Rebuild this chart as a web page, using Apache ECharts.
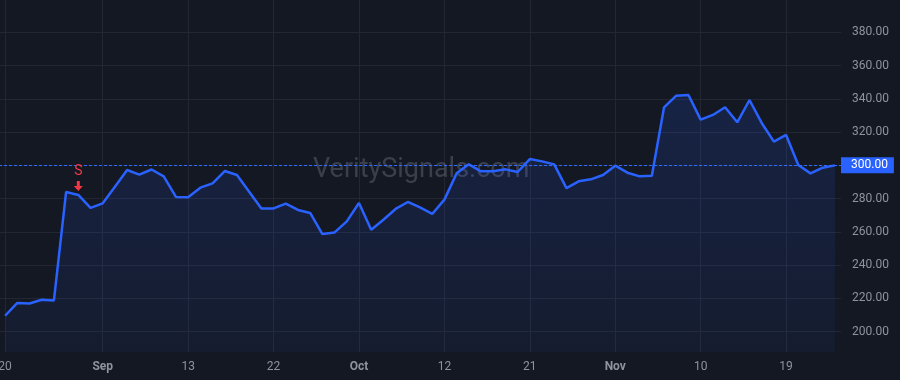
<!DOCTYPE html>
<html>
<head>
<meta charset="utf-8">
<script src="https://cdn.jsdelivr.net/npm/echarts@6/dist/echarts.min.js"></script>
<style>
  html, body { margin: 0; padding: 0; background: #141823; }
  #chart { width: 900px; height: 380px; }
</style>
</head>
<body>
<div id="chart"></div>
<script>
// trading days, Aug 20 - Nov 26 2021
var categories = [
  '2021-08-20', '2021-08-23', '2021-08-24', '2021-08-25', '2021-08-26', '2021-08-27', '2021-08-30', '2021-08-31',
  '2021-09-01', '2021-09-02', '2021-09-03', '2021-09-07', '2021-09-08', '2021-09-09', '2021-09-10',
  '2021-09-13', '2021-09-14', '2021-09-15', '2021-09-16', '2021-09-17', '2021-09-20', '2021-09-21',
  '2021-09-22', '2021-09-23', '2021-09-24', '2021-09-27', '2021-09-28', '2021-09-29', '2021-09-30',
  '2021-10-01', '2021-10-04', '2021-10-05', '2021-10-06', '2021-10-07', '2021-10-08', '2021-10-11',
  '2021-10-12', '2021-10-13', '2021-10-14', '2021-10-15', '2021-10-18', '2021-10-19', '2021-10-20',
  '2021-10-21', '2021-10-22', '2021-10-25', '2021-10-26', '2021-10-27', '2021-10-28', '2021-10-29',
  '2021-11-01', '2021-11-02', '2021-11-03', '2021-11-04', '2021-11-05', '2021-11-08', '2021-11-09',
  '2021-11-10', '2021-11-11', '2021-11-12', '2021-11-15', '2021-11-16', '2021-11-17', '2021-11-18',
  '2021-11-19', '2021-11-22', '2021-11-23', '2021-11-24', '2021-11-26'
]
var prices = [
  209.6, 217.3, 217.0, 219.2, 218.8, 284.0, 282.2, 274.4,
  277.2, 287.2, 297.2, 294.4, 297.5, 293.4, 281.0,
  280.8, 286.6, 289.2, 296.6, 294.2, 284.2, 274.1,
  274.1, 277.0, 273.2, 271.4, 258.7, 259.7, 266.3,
  277.4, 261.3, 267.3, 273.8, 278.0, 274.7, 270.8,
  279.4, 295.2, 300.6, 296.4, 296.4, 297.6, 296.0,
  303.8, 302.4, 300.6, 286.3, 290.4, 291.6, 294.2,
  299.8, 295.6, 293.4, 293.8, 334.9, 341.9, 342.3,
  327.5, 330.3, 334.9, 325.9, 339.3, 325.5, 314.3,
  318.3, 300.2, 295.2, 298.6, 300.0
]
var tickDates = ['2021-08-20', '2021-09-01', '2021-09-13', '2021-09-22', '2021-10-01',
  '2021-10-12', '2021-10-21', '2021-11-01', '2021-11-10', '2021-11-19']
var monthNames = ['Jan', 'Feb', 'Mar', 'Apr', 'May', 'Jun', 'Jul', 'Aug', 'Sep', 'Oct', 'Nov', 'Dec']
var signalDates = ['2021-08-30']
var signalTexts = ['S']

var lastPrice = prices[prices.length - 1]
var textColor = '#8f939e'
var gridColor = '#232734'
var bg = '#141823'

function isTick(idx) {
  return tickDates.indexOf(categories[idx]) >= 0
}

var chart = echarts.init(document.getElementById('chart'))
chart.setOption({
  backgroundColor: bg,
  animation: false,
  textStyle: { fontFamily: 'Roboto, sans-serif' },
  grid: {
    left: -1,
    right: 59,
    top: -1,
    bottom: 15,
    outerBoundsMode: 'none'
  },
  xAxis: [
    {
      // grid lines only
      type: 'category',
      position: 'top',
      data: categories,
      boundaryGap: true,
      axisLine: { show: false },
      axisTick: { show: false },
      axisLabel: { show: false },
      splitLine: {
        show: true,
        alignWithLabel: true,
        interval: function(idx) { return isTick(idx) },
        lineStyle: { color: gridColor, width: 1 }
      }
    },
    {
      // labels, drawn over the bottom strip
      type: 'category',
      position: 'bottom',
      data: categories,
      boundaryGap: true,
      z: 60,
      axisLine: { show: false },
      axisTick: { show: false },
      splitLine: { show: false },
      axisLabel: {
        interval: function(idx) { return isTick(idx) },
        verticalAlign: 'middle',
        margin: 2,
        color: textColor,
        fontSize: 12,
        formatter: function(v) {
          var p = v.split('-')
          var day = parseInt(p[2], 10)
          if (day === 1) return '{m|' + monthNames[parseInt(p[1], 10) - 1] + '}'
          return String(day)
        },
        rich: {
          m: { fontWeight: 'bold', fontSize: 12, color: textColor }
        }
      }
    }
  ],
  yAxis: {
    type: 'value',
    position: 'right',
    min: 180,
    max: 400,
    interval: 20,
    axisLine: { show: false },
    axisTick: { show: false },
    axisLabel: {
      color: textColor,
      fontSize: 12,
      margin: 11,
      formatter: function(v) {
        if (v < 200 || v > 380) return ''
        return v.toFixed(2)
      }
    },
    splitLine: { lineStyle: { color: gridColor, width: 1 } }
  },
  graphic: [
    {
      type: 'text',
      left: 313,
      top: 157,
      z: 1,
      style: {
        text: 'VeritySignals.com',
        fill: 'rgba(150,155,170,0.3)',
        font: '27px Roboto, sans-serif'
      }
    },
    {
      // bottom time scale strip
      type: 'rect',
      z: 50,
      shape: { x: 0, y: 352, width: 900, height: 28 },
      style: { fill: bg }
    }
  ],
  series: [
    {
      type: 'line',
      xAxisIndex: 0,
      data: prices,
      symbol: 'none',
      lineStyle: { color: '#2962ff', width: 2.5 },
      itemStyle: { color: '#2962ff' },
      areaStyle: {
        color: new echarts.graphic.LinearGradient(0, 0, 0, 1, [
          { offset: 0, color: 'rgba(41,98,255,0.22)' },
          { offset: 1, color: 'rgba(41,98,255,0.07)' }
        ])
      },
      markLine: {
        silent: true,
        symbol: 'none',
        lineStyle: { color: '#2f6bff', type: [3, 2], width: 1.2 },
        label: {
          position: 'end',
          distance: 0,
          color: '#fff',
          fontSize: 12,
          backgroundColor: '#2962ff',
          padding: [2, 6, 1, 10],
          lineHeight: 13,
          formatter: function(p) { return p.value.toFixed(2) }
        },
        data: [{ yAxis: lastPrice }]
      },
      markPoint: {
        silent: true,
        symbol: 'path://M3,0 L6,0 L6,5 L9,5 L4.5,10 L0,5 L3,5 Z',
        symbolSize: [9, 10],
        symbolOffset: [0, -9],
        itemStyle: { color: '#f23645' },
        label: {
          show: true,
          position: 'top',
          distance: 2,
          color: '#f23645',
          fontSize: 14,
          formatter: function(p) { return p.name }
        },
        data: signalDates.map(function(d, i) {
          return { name: signalTexts[i], coord: [d, prices[categories.indexOf(d)]] }
        })
      }
    }
  ]
})
</script>
</body>
</html>
